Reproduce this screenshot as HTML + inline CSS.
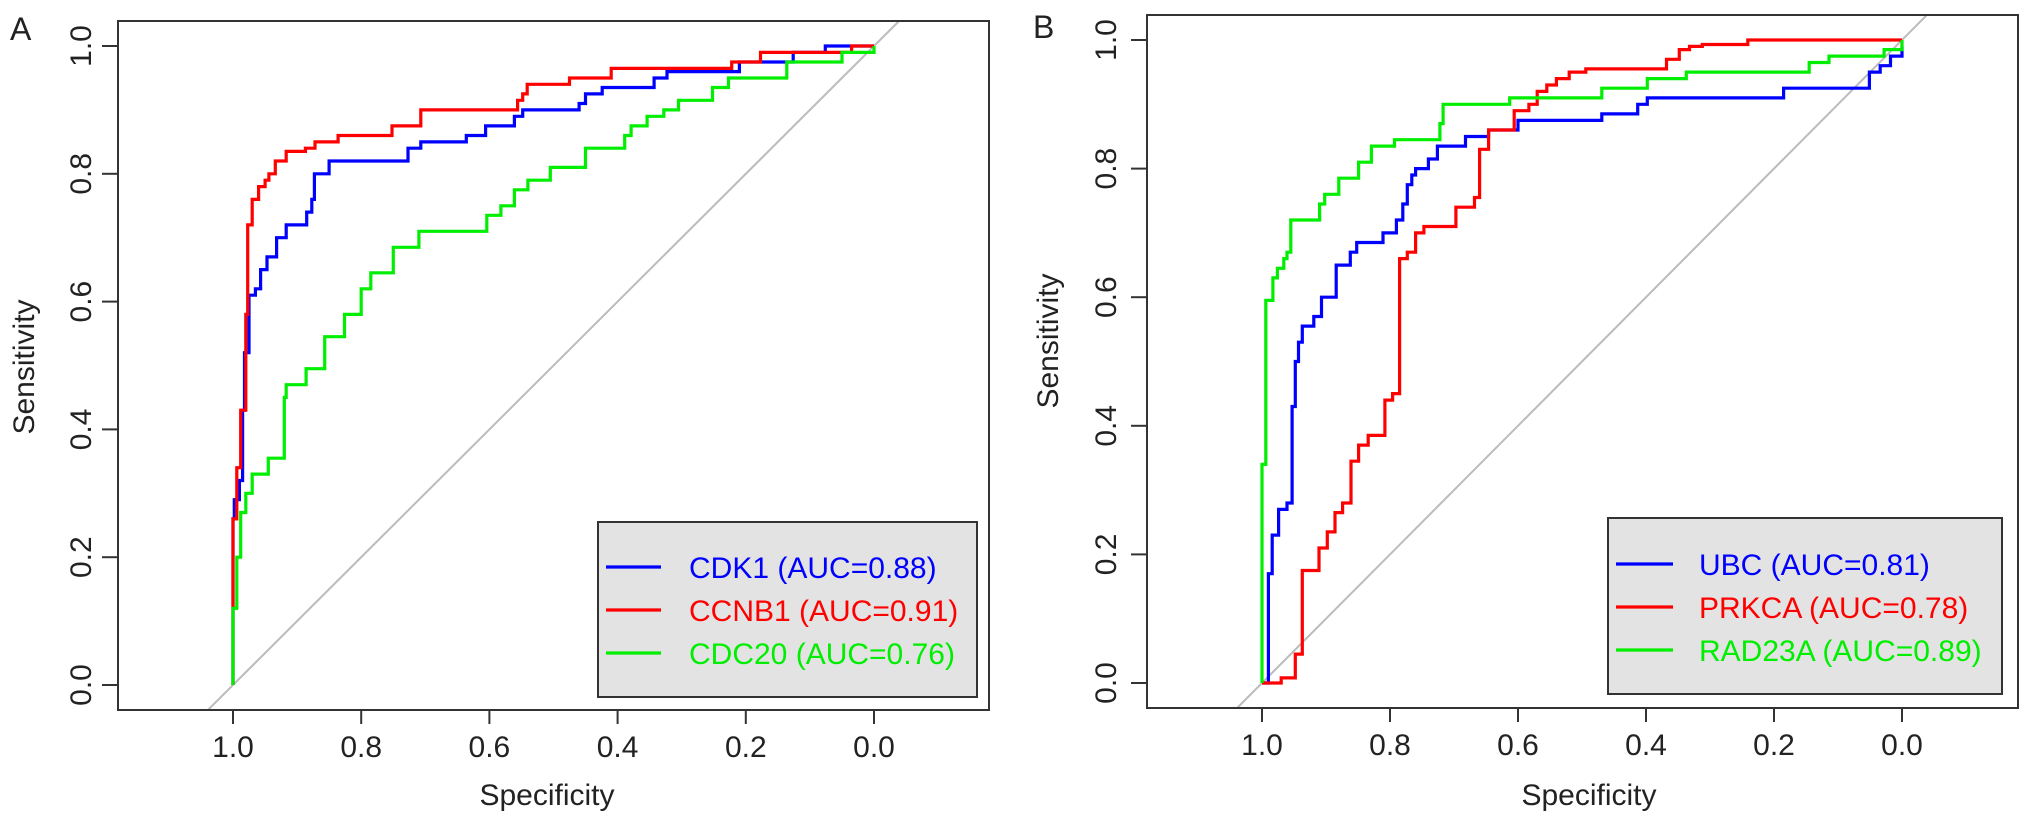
<!DOCTYPE html>
<html><head><meta charset="utf-8">
<style>
html,body{margin:0;padding:0;background:#fff;}
svg{display:block;font-family:"Liberation Sans",Arial,sans-serif;}
</style></head>
<body>
<svg id="chart" width="2031" height="822" viewBox="0 0 2031 822" xmlns="http://www.w3.org/2000/svg"></svg>
<script>
// ---- data ----
const tickValues = [0.0, 0.2, 0.4, 0.6, 0.8, 1.0];
const tickLabels = ["0.0", "0.2", "0.4", "0.6", "0.8", "1.0"];

const cdk1Spec = [1.0,0.998,0.99,0.985,0.982,0.975,0.965,0.957,0.947,0.932,0.917,0.885,0.877,0.873,0.85,0.727,0.707,0.636,0.606,0.561,0.548,0.46,0.45,0.424,0.343,0.323,0.21,0.126,0.076];
const cdk1Sens = [0.26,0.29,0.32,0.43,0.52,0.61,0.62,0.65,0.67,0.70,0.72,0.74,0.76,0.80,0.82,0.84,0.85,0.86,0.875,0.89,0.90,0.91,0.925,0.935,0.95,0.96,0.975,0.99,1.0];

const ccnb1Spec = [1.0,0.994,0.988,0.98,0.977,0.97,0.96,0.95,0.944,0.934,0.917,0.887,0.872,0.836,0.752,0.707,0.556,0.548,0.541,0.475,0.41,0.222,0.177,0.035];
const ccnb1Sens = [0.26,0.34,0.43,0.58,0.72,0.76,0.78,0.79,0.80,0.82,0.835,0.84,0.85,0.86,0.875,0.90,0.915,0.925,0.94,0.95,0.965,0.975,0.99,1.0];

const cdc20Spec = [1.0,0.994,0.988,0.98,0.97,0.945,0.92,0.917,0.886,0.857,0.826,0.8,0.785,0.75,0.71,0.604,0.582,0.561,0.54,0.505,0.45,0.389,0.379,0.354,0.328,0.305,0.252,0.227,0.136,0.05,0.0];
const cdc20Sens = [0.12,0.20,0.27,0.30,0.33,0.355,0.45,0.47,0.495,0.545,0.58,0.62,0.645,0.685,0.71,0.735,0.75,0.775,0.79,0.81,0.84,0.86,0.875,0.89,0.90,0.915,0.935,0.95,0.975,0.99,1.0];

const ubcSpec = [0.99,0.99,0.984,0.974,0.961,0.953,0.948,0.943,0.937,0.919,0.907,0.884,0.862,0.852,0.811,0.79,0.78,0.773,0.766,0.76,0.74,0.726,0.682,0.646,0.6,0.469,0.413,0.398,0.185,0.051,0.034,0.018,0.0];
const ubcSens = [0.01,0.17,0.23,0.27,0.28,0.43,0.50,0.53,0.555,0.57,0.60,0.65,0.67,0.685,0.70,0.72,0.745,0.775,0.79,0.80,0.815,0.835,0.85,0.86,0.875,0.885,0.90,0.91,0.925,0.95,0.96,0.975,0.99];

const prkcaSpec = [0.97,0.948,0.937,0.911,0.898,0.886,0.874,0.861,0.849,0.834,0.808,0.796,0.785,0.773,0.76,0.747,0.697,0.668,0.66,0.646,0.606,0.583,0.57,0.555,0.54,0.52,0.494,0.368,0.348,0.332,0.312,0.241];
const prkcaSens = [0.008,0.045,0.175,0.21,0.235,0.265,0.28,0.345,0.37,0.385,0.44,0.45,0.66,0.67,0.70,0.71,0.74,0.755,0.83,0.86,0.89,0.90,0.92,0.93,0.94,0.95,0.955,0.97,0.985,0.99,0.993,1.0];

const rad23aSpec = [1.0,0.994,0.983,0.976,0.966,0.961,0.955,0.91,0.902,0.88,0.849,0.829,0.793,0.722,0.717,0.613,0.469,0.398,0.337,0.145,0.114,0.028,0.0];
const rad23aSens = [0.34,0.595,0.63,0.645,0.66,0.67,0.72,0.745,0.76,0.785,0.81,0.835,0.845,0.87,0.90,0.91,0.925,0.94,0.95,0.965,0.975,0.985,1.0];

const panelALabels = ["CDK1 (AUC=0.88)", "CCNB1 (AUC=0.91)", "CDC20 (AUC=0.76)"];
const panelBLabels = ["UBC (AUC=0.81)", "PRKCA (AUC=0.78)", "RAD23A (AUC=0.89)"];

// ---- drawing ----
const NS = "http://www.w3.org/2000/svg";
const svg = document.getElementById("chart");
function mk(tag, attrs, parent){
  const e = document.createElementNS(NS, tag);
  for (const k in attrs) e.setAttribute(k, attrs[k]);
  (parent||svg).appendChild(e);
  return e;
}

const panels = [
  {id:"a", letter:"A", letterX:10, letterY:40, box:[118,21,989,710], x1:233, x0:874, y1:46, y0:685,
   ytl:81, ylab:34, ylabY:367, xlabX:547, xtickY:746, legend:[598,522,977,697], legLineX:[606,661], legTextX:689, legRows:[567,610,653],
   series:[[cdk1Spec,cdk1Sens,"#0000ff"],[ccnb1Spec,ccnb1Sens,"#ff0000"],[cdc20Spec,cdc20Sens,"#00ee00"]], labels:panelALabels},
  {id:"b", letter:"B", letterX:1033, letterY:38, box:[1147,15,2018,708], x1:1262, x0:1902, y1:40, y0:683,
   ytl:1106, ylab:1058, ylabY:341, xlabX:1589, xtickY:744, legend:[1608,518,2002,694], legLineX:[1616,1673], legTextX:1699, legRows:[564,607,650],
   series:[[ubcSpec,ubcSens,"#0000ff"],[prkcaSpec,prkcaSens,"#ff0000"],[rad23aSpec,rad23aSens,"#00ee00"]], labels:panelBLabels}
];

panels.forEach(p => {
  const g = mk("g", {});
  
  
  const sx = v => p.x0 + (p.x1 - p.x0) * v;
  const sy = v => p.y0 - (p.y0 - p.y1) * v;
  const [bl, bt, br, bb] = p.box;

  const cp = mk("clipPath", {id:"clip-" + p.id}, g);
  mk("rect", {x:bl, y:bt, width:br-bl, height:bb-bt}, cp);

  const diag = mk("line", {x1:sx(1.2), y1:sy(-0.2), x2:sx(-0.2), y2:sy(1.2), stroke:"#bbbbbb", "stroke-width":2, "clip-path":"url(#clip-" + p.id + ")"}, g);
  
  

  p.series.forEach((s, si) => {
    const [spec, sens, col] = s;
    let d = "M" + sx(1) + " " + sy(0);
    let prev = 0;
    for (let i = 0; i < spec.length; i++) {
      d += " L" + sx(spec[i]).toFixed(1) + " " + sy(prev).toFixed(1);
      d += " L" + sx(spec[i]).toFixed(1) + " " + sy(sens[i]).toFixed(1);
      prev = sens[i];
    }
    d += " L" + sx(0) + " " + sy(prev).toFixed(1);
    const path = mk("path", {d:d, fill:"none", stroke:col, "stroke-width":3.2, "stroke-linejoin":"miter"}, g);
    
    
  });

  const box = mk("rect", {x:bl, y:bt, width:br-bl, height:bb-bt, fill:"none", stroke:"#333", "stroke-width":2}, g);
  
  

  tickValues.forEach((v, i) => {
    const t = mk("line", {x1:bl-16, x2:bl, y1:sy(v), y2:sy(v), stroke:"#333", "stroke-width":2}, g);
    
    
    const tx = mk("text", {x:0, y:0, "font-size":30, fill:"#222", "text-anchor":"middle", transform:"translate(" + (p.ytl + 10) + "," + sy(v) + ") rotate(-90)"}, g);
    tx.textContent = tickLabels[i];
    
    
  });
  tickValues.forEach((v, i) => {
    const t = mk("line", {x1:sx(v), x2:sx(v), y1:bb, y2:bb+14, stroke:"#333", "stroke-width":2}, g);
    
    
    const tx = mk("text", {x:sx(v), y:p.xtickY + 11, "font-size":30, fill:"#222", "text-anchor":"middle"}, g);
    tx.textContent = tickLabels[i];
    
    
  });

  const xt = mk("text", {x:p.xlabX, y:805, "font-size":30, fill:"#222", "text-anchor":"middle"}, g);
  xt.textContent = "Specificity";
  
  
  const yt = mk("text", {x:0, y:0, "font-size":30, fill:"#222", "text-anchor":"middle", transform:"translate(" + p.ylab + "," + p.ylabY + ") rotate(-90)"}, g);
  yt.textContent = "Sensitivity";
  
  

  const lt = mk("text", {x:p.letterX, y:p.letterY, "font-size":32, fill:"#222"}, g);
  lt.textContent = p.letter;
  
  

  const [ll, lt2, lr, lb] = p.legend;
  const lg = mk("g", {}, g);
  
  
  mk("rect", {x:ll, y:lt2, width:lr-ll, height:lb-lt2, fill:"#e3e3e3", stroke:"#333", "stroke-width":2}, lg);
  p.series.forEach((s, si) => {
    const y = p.legRows[si];
    const e = mk("g", {}, lg);
    
    
    mk("line", {x1:p.legLineX[0], x2:p.legLineX[1], y1:y, y2:y, stroke:s[2], "stroke-width":3.2}, e);
    const tx = mk("text", {x:p.legTextX, y:y + 11, "font-size":30, fill:s[2]}, e);
    tx.textContent = p.labels[si];
  });
});
</script>
</body></html>
